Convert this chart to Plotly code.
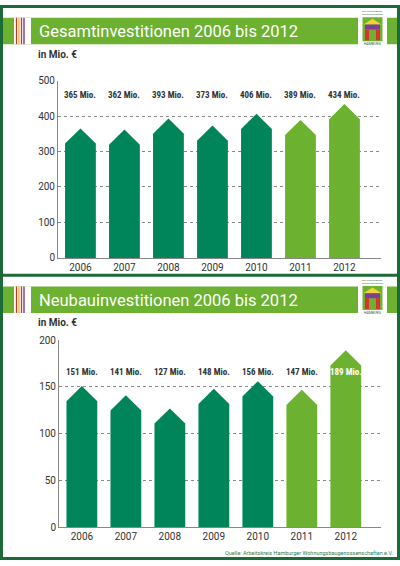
import plotly.graph_objects as go

# ---------------- data ----------------
years = ["2006", "2007", "2008", "2009", "2010", "2011", "2012"]
gesamt = [365, 362, 393, 373, 406, 389, 434]
neubau = [151, 141, 127, 148, 156, 147, 189]
gesamt_labels = ["365 Mio.", "362 Mio.", "393 Mio.", "373 Mio.", "406 Mio.", "389 Mio.", "434 Mio."]
neubau_labels = ["151 Mio.", "141 Mio.", "127 Mio.", "148 Mio.", "156 Mio.", "147 Mio.", "189 Mio."]
title1 = "Gesamtinvestitionen 2006 bis 2012"
title2 = "Neubauinvestitionen 2006 bis 2012"
unit_text = "in Mio. €"
source_text = "Quelle: Arbeitskreis Hamburger Wohnungsbaugenossenschaften e.V."

# ---------------- style ----------------
W, H = 400, 566
DARK = "#00845a"
LIGHT = "#6cb12f"
BORDER = "#1b6a37"
TEXT = "#333333"
bar_colors = [DARK] * 5 + [LIGHT] * 2
label_colors1 = [TEXT] * 7
label_colors2 = [TEXT] * 6 + ["#ffffff"]
FONT = "Roboto, 'Open Sans', sans-serif"
NARROW = "'Liberation Sans Narrow', 'Roboto Condensed', Roboto, sans-serif"

def px(x):
    return x / W

def py(y):
    return 1 - y / H

# panel geometry (pixel)
panels = [
    dict(x0=58, x1=381, ytop=77, ybot=258, ymax=500, dtick=100, xr=[-0.51, 6.83],
         vals=gesamt, labels=gesamt_labels, lcol=label_colors1, label_y=458,
         off=0, title=title1, xa="x", ya="y"),
    dict(x0=59, x1=381, ytop=341.7, ybot=532.7, ymax=200, dtick=50, xr=[-0.52, 6.80],
         vals=neubau, labels=neubau_labels, lcol=label_colors2, label_y=166,
         off=274, title=title2, xa="x2", ya="y2"),
]

HALF = 0.35     # half bar width in category units
ROOF_PX = 15.5  # roof height in pixels

fig = go.Figure()
shapes = []
annotations = []

for k, p in enumerate(panels):
    roof = ROOF_PX * p["ymax"] / (p["ybot"] - p["ytop"])
    for i, v in enumerate(p["vals"]):
        xs = [i - HALF, i - HALF, i, i + HALF, i + HALF, i - HALF]
        ys = [0, v - roof, v, v - roof, 0, 0]
        fig.add_trace(go.Scatter(x=xs, y=ys, fill="toself", fillcolor=bar_colors[i],
                                 mode="lines", line=dict(width=0, color=bar_colors[i]),
                                 xaxis=p["xa"], yaxis=p["ya"], showlegend=False,
                                 hoverinfo="skip"))
        annotations.append(dict(x=i, y=p["label_y"], xref=p["xa"], yref=p["ya"],
                                text="<b>" + p["labels"][i] + "</b>", showarrow=False,
                                font=dict(family=NARROW, size=9, color=p["lcol"][i])))

    axn = "" if k == 0 else "2"
    fig.update_layout(**{
        "xaxis" + axn: dict(domain=[px(p["x0"]), px(p["x1"])], range=p["xr"],
                            tickvals=list(range(len(years))), ticktext=years,
                            showgrid=False, zeroline=False, showline=True,
                            linecolor="#888888", linewidth=1, ticks="",
                            tickfont=dict(family=FONT, size=10, color=TEXT),
                            anchor="y" + axn, fixedrange=True),
        "yaxis" + axn: dict(domain=[py(p["ybot"]), py(p["ytop"])], range=[0, p["ymax"]],
                            dtick=p["dtick"], showgrid=True, gridcolor="#8a8a8a",
                            griddash="dot", gridwidth=1, zeroline=False, showline=True,
                            linecolor="#888888", linewidth=1, ticks="",
                            tickfont=dict(family=FONT, size=10, color=TEXT),
                            anchor="x" + axn, fixedrange=True),
    })

    o = p["off"]
    # header band
    shapes.append(dict(type="rect", xref="paper", yref="paper", x0=px(3), x1=px(397),
                       y0=py(o + 40), y1=py(o + 13), fillcolor=LIGHT, line=dict(width=0), layer="below"))
    # white gap with stripes on left
    shapes.append(dict(type="rect", xref="paper", yref="paper", x0=px(14), x1=px(31),
                       y0=py(o + 40), y1=py(o + 13), fillcolor="white", line=dict(width=0), layer="below"))
    for sx, sc in [(16.5, "#c0392b"), (19, "#f0b323"), (21.5, "#c0392b"), (24, "#6a2c8c")]:
        shapes.append(dict(type="line", xref="paper", yref="paper", x0=px(sx), x1=px(sx),
                           y0=py(o + 40), y1=py(o + 13), line=dict(color=sc, width=1.3), layer="below"))
    # logo area
    shapes.append(dict(type="rect", xref="paper", yref="paper", x0=px(358), x1=px(387),
                       y0=py(o + 43), y1=py(o + 5), fillcolor="white", line=dict(width=0), layer="below"))
    shapes.append(dict(type="rect", xref="paper", yref="paper", x0=px(362.5), x1=px(382.5),
                       y0=py(o + 37), y1=py(o + 12.5), fillcolor=LIGHT, line=dict(width=0), layer="below"))
    shapes.append(dict(type="path", xref="paper", yref="paper",
                       path="M %f,%f L %f,%f L %f,%f Z" % (px(363.5), py(o + 20), px(372.5), py(o + 14),
                                                         px(381.5), py(o + 20)),
                       fillcolor="#f2d23a", line=dict(width=0), layer="below"))
    shapes.append(dict(type="rect", xref="paper", yref="paper", x0=px(365), x1=px(380),
                       y0=py(o + 25), y1=py(o + 20), fillcolor="#7b3f98", line=dict(width=0), layer="below"))
    shapes.append(dict(type="rect", xref="paper", yref="paper", x0=px(365), x1=px(369),
                       y0=py(o + 36), y1=py(o + 25), fillcolor="#d9342b", line=dict(width=0), layer="below"))
    shapes.append(dict(type="rect", xref="paper", yref="paper", x0=px(376), x1=px(380),
                       y0=py(o + 36), y1=py(o + 25), fillcolor="#d9342b", line=dict(width=0), layer="below"))
    annotations.append(dict(x=px(372.5), y=py(o + 8.5), xref="paper", yref="paper",
                            text="Die Wohnungsbau<br>Genossenschaften", showarrow=False,
                            font=dict(family=FONT, size=2.5, color="#1b6a37"), xanchor="center",
                            yanchor="middle"))
    annotations.append(dict(x=px(372.5), y=py(o + 40), xref="paper", yref="paper",
                            text="HAMBURG", showarrow=False,
                            font=dict(family=FONT, size=3.5, color="#1b6a37"), xanchor="center",
                            yanchor="middle"))
    # title
    annotations.append(dict(x=px(37), y=py(o + 27), xref="paper", yref="paper", text=p["title"],
                            showarrow=False, xanchor="left", yanchor="middle",
                            font=dict(family=FONT, size=16.5, color="white")))
    # unit
    annotations.append(dict(x=px(36), y=py(o + 50), xref="paper", yref="paper", text="<b>" + unit_text + "</b>",
                            showarrow=False, xanchor="left", yanchor="middle",
                            font=dict(family=FONT, size=10, color=TEXT)))

# borders
shapes.append(dict(type="rect", xref="paper", yref="paper", x0=px(1.5), x1=px(398.5),
                   y0=py(564.5), y1=py(1.5), line=dict(color=BORDER, width=3), fillcolor="rgba(0,0,0,0)"))
shapes.append(dict(type="line", xref="paper", yref="paper", x0=px(0), x1=px(400),
                   y0=py(275.5), y1=py(275.5), line=dict(color=BORDER, width=3)))

annotations.append(dict(x=px(395), y=py(559), xref="paper", yref="paper", text=source_text,
                        showarrow=False, xanchor="right", yanchor="middle",
                        font=dict(family=FONT, size=5.5, color="#2e7d4f")))

fig.update_layout(width=W, height=H, margin=dict(l=0, r=0, t=0, b=0),
                  paper_bgcolor="white", plot_bgcolor="white",
                  shapes=shapes, annotations=annotations, showlegend=False)

fig.write_html("out.html", config={"displayModeBar": False},
               post_script="document.body.style.margin='0';document.body.style.overflow='hidden';")
